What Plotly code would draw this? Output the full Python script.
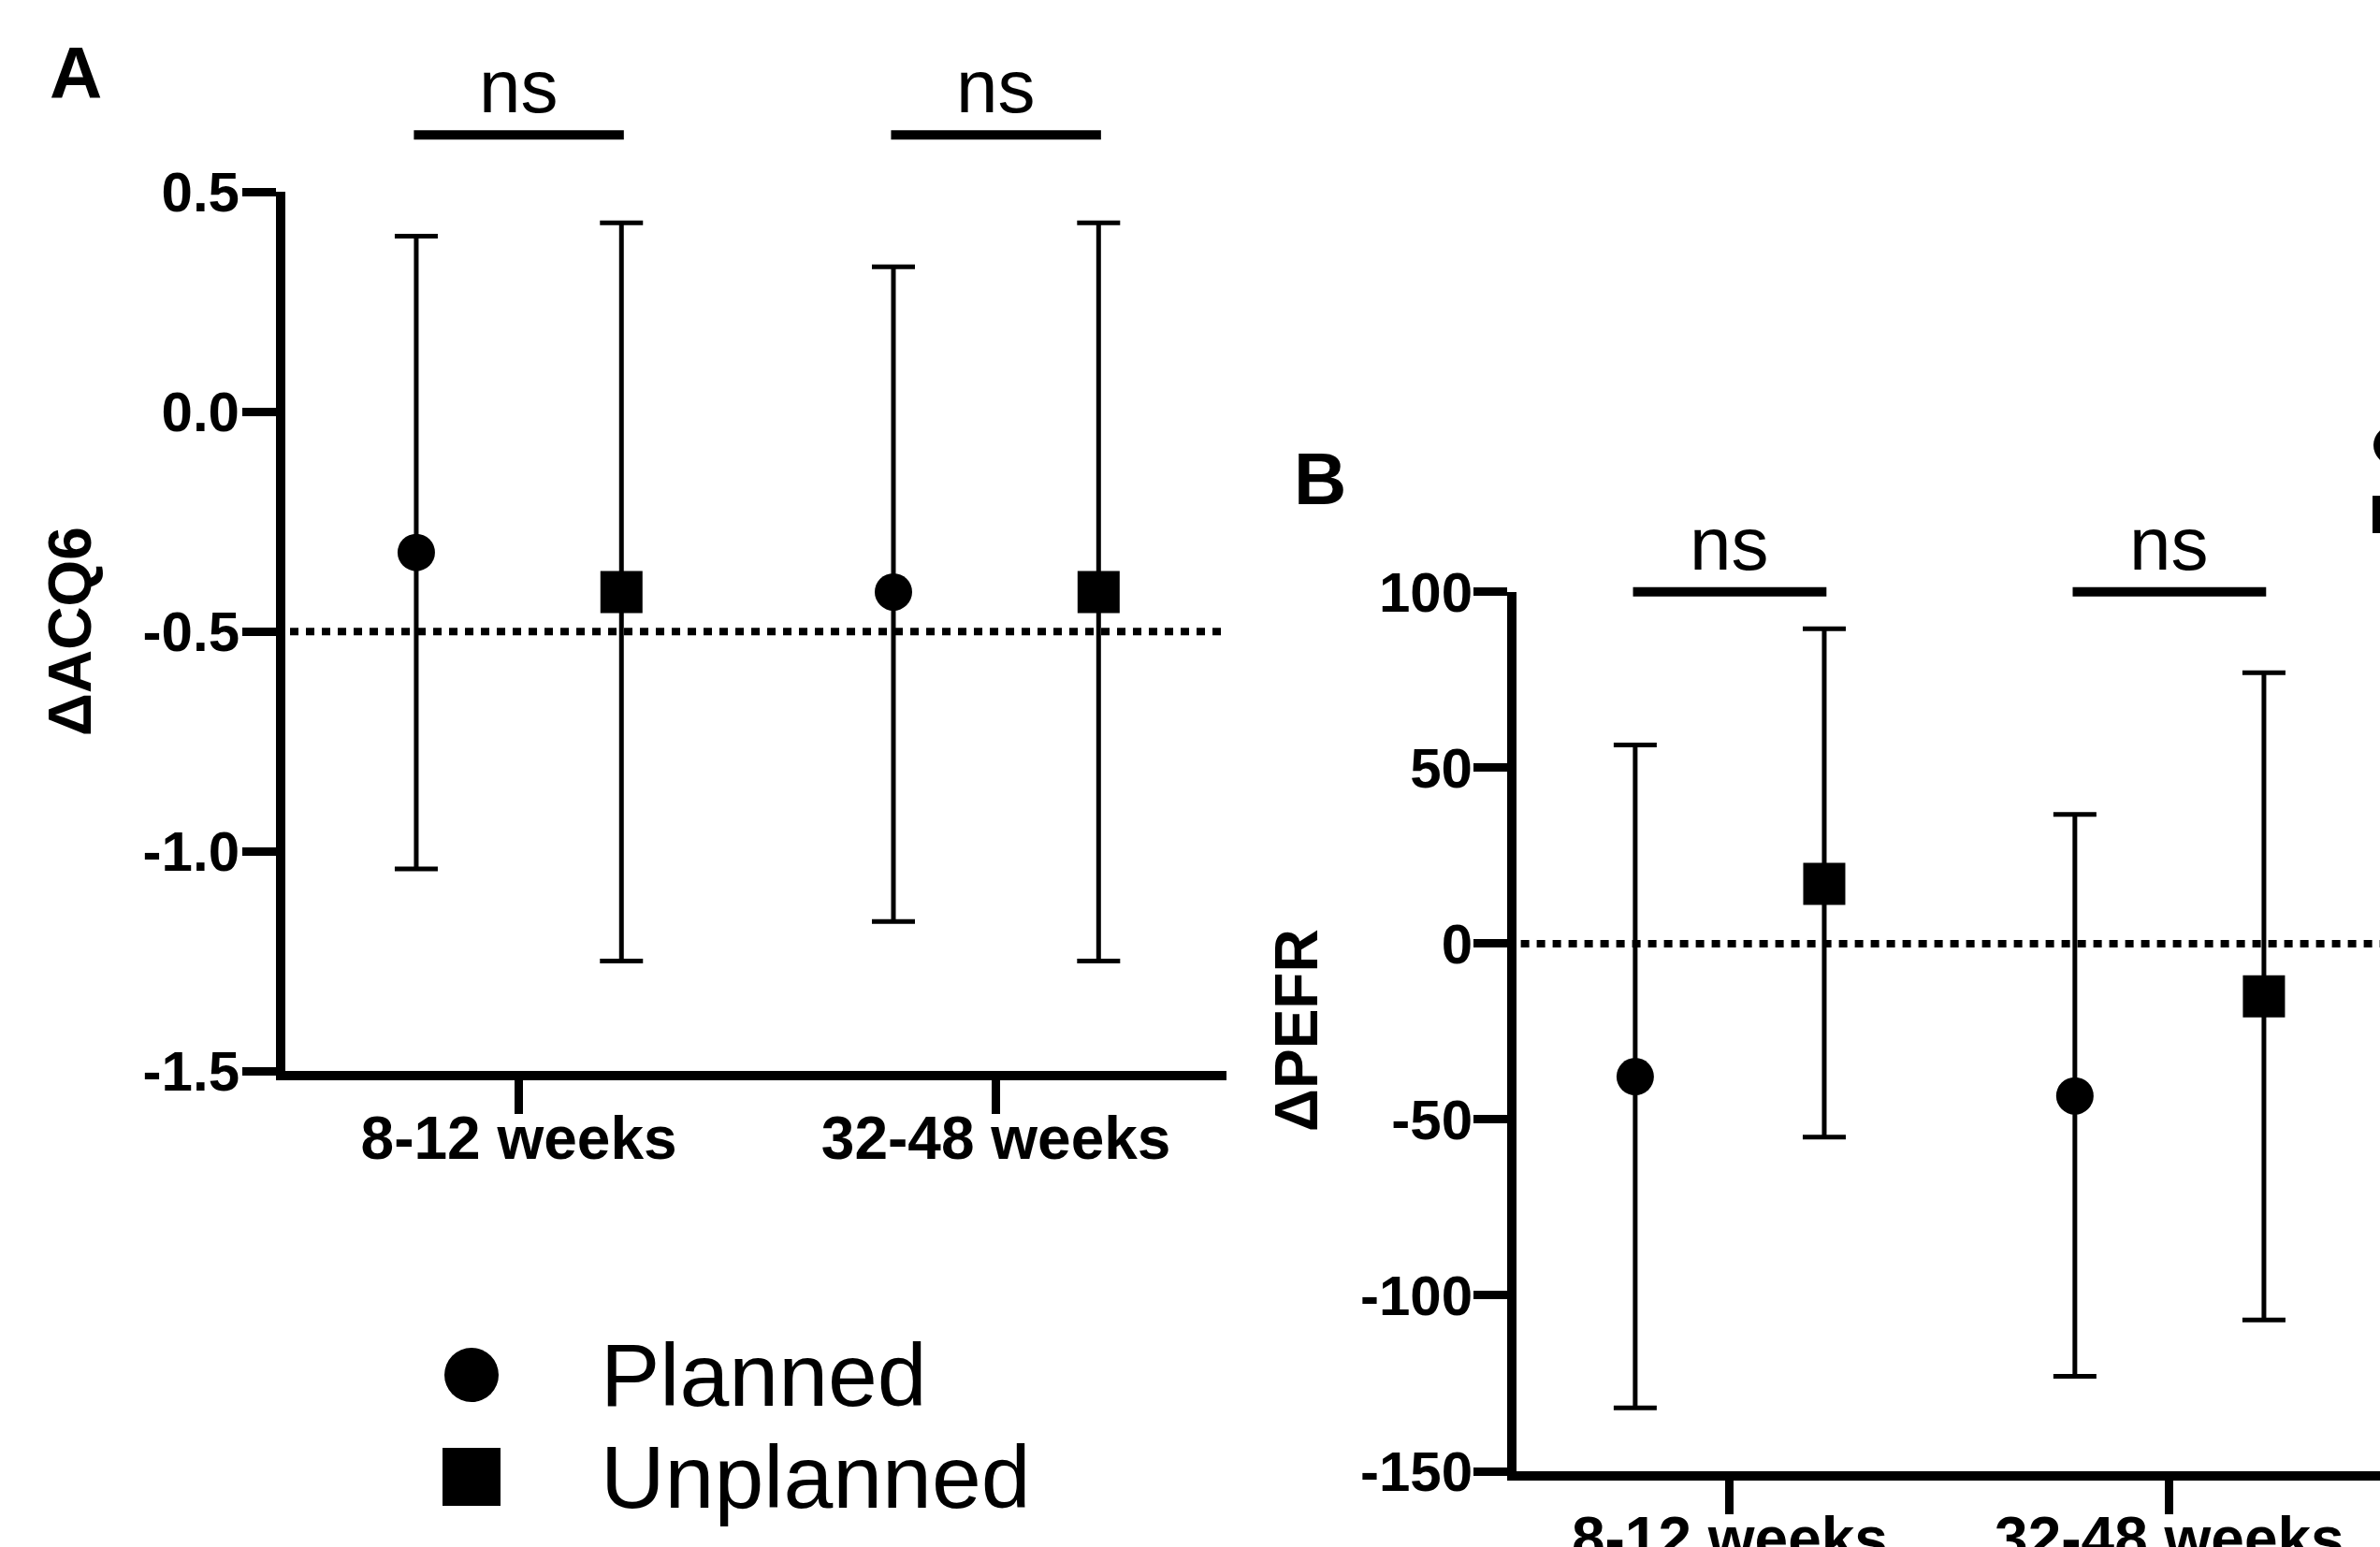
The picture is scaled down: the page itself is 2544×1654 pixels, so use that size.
import plotly.graph_objects as go

W, H = 2544, 1654
FONT = "Arial, Liberation Sans, sans-serif"
PAGE_OFF = 0  # body margin removed via post_script

# ---------------- data ----------------
categories = ["8-12 weeks", "32-48 weeks"]
cat_pos = [1, 2]
groups = ["Planned", "Unplanned"]
sig_labels = ["ns", "ns"]

# Panel A: change in ACQ6 (mean with 95% CI)
acq_planned_mean = [-0.32, -0.41]
acq_planned_upper = [0.40, 0.33]
acq_planned_lower = [-1.04, -1.16]
acq_unplanned_mean = [-0.41, -0.41]
acq_unplanned_upper = [0.43, 0.43]
acq_unplanned_lower = [-1.25, -1.25]
acq_ref = -0.5
acq_ticks = [-1.5, -1.0, -0.5, 0.0, 0.5]
acq_ticklabels = ["-1.5", "-1.0", "-0.5", "0.0", "0.5"]
acq_sig_y = 0.63

# Panel B: change in PEFR (mean with 95% CI)
pefr_planned_mean = [-37.8, -43.3]
pefr_planned_upper = [56.5, 36.7]
pefr_planned_lower = [-132.0, -123.0]
pefr_unplanned_mean = [17.0, -15.0]
pefr_unplanned_upper = [89.5, 77.0]
pefr_unplanned_lower = [-55.0, -107.0]
pefr_ref = 0
pefr_ticks = [-150, -100, -50, 0, 50, 100]
pefr_ticklabels = ["-150", "-100", "-50", "0", "50", "100"]
pefr_sig_y = 100


# ---------------- layout geometry ----------------
def px(x):
    return (x - PAGE_OFF) / W


def py(y):
    return 1 - (y - PAGE_OFF) / H


OFF = 0.215
A_xdom, A_xrng = [px(305), px(1311)], [0.5106, 2.483]
A_ydom, A_yrng = [py(1145), py(205.4)], [-1.5, 0.5]
B_xdom, B_xrng = [px(1621), 1.0], [0.515, 2.479]
B_ydom, B_yrng = [py(1573), py(632.8)], [-150, 100]


def to_paper(v, dom, rng):
    return dom[0] + (v - rng[0]) / (rng[1] - rng[0]) * (dom[1] - dom[0])


fig = go.Figure()


def add_panel(xa, ya, pm, pu, pl, um, uu, ul):
    for name, mean, up, lo, sym, size, sign in [
        (groups[0], pm, pu, pl, "circle", 40, -1),
        (groups[1], um, uu, ul, "square", 45, 1),
    ]:
        fig.add_trace(go.Scatter(
            x=[c + sign * OFF for c in cat_pos], y=mean,
            mode="markers", name=name, showlegend=False,
            xaxis=xa, yaxis=ya,
            marker=dict(symbol=sym, size=size, color="black", line=dict(width=0)),
            error_y=dict(type="data", symmetric=False,
                         array=[u - m for u, m in zip(up, mean)],
                         arrayminus=[m - l for m, l in zip(mean, lo)],
                         color="black", thickness=5, width=23),
        ))


add_panel("x", "y", acq_planned_mean, acq_planned_upper, acq_planned_lower,
          acq_unplanned_mean, acq_unplanned_upper, acq_unplanned_lower)
add_panel("x2", "y2", pefr_planned_mean, pefr_planned_upper, pefr_planned_lower,
          pefr_unplanned_mean, pefr_unplanned_upper, pefr_unplanned_lower)

axis_common = dict(showline=True, linecolor="black", linewidth=10,
                   ticks="outside", ticklen=36, tickwidth=9, tickcolor="black",
                   showgrid=False, zeroline=False, fixedrange=True, automargin=False)

fig.update_layout(
    template="none",
    width=W, height=H, autosize=False,
    margin=dict(l=0, r=0, t=0, b=0, pad=0),
    paper_bgcolor="white", plot_bgcolor="white",
    font=dict(family=FONT, color="black"),
    showlegend=False,
    xaxis=dict(domain=A_xdom, range=A_xrng, anchor="y",
               tickvals=cat_pos, ticktext=categories, ticklabelstandoff=-29,
               tickfont=dict(size=64, weight="bold"), **axis_common),
    yaxis=dict(domain=A_ydom, range=A_yrng, anchor="x",
               tickvals=acq_ticks, ticktext=acq_ticklabels, ticklabelstandoff=-9,
               tickfont=dict(size=60, weight="bold"), **axis_common),
    xaxis2=dict(domain=B_xdom, range=B_xrng, anchor="y2",
                tickvals=cat_pos, ticktext=categories, ticklabelstandoff=-29,
                tickfont=dict(size=64, weight="bold"), **axis_common),
    yaxis2=dict(domain=B_ydom, range=B_yrng, anchor="x2",
                tickvals=pefr_ticks, ticktext=pefr_ticklabels, ticklabelstandoff=-11,
                tickfont=dict(size=60, weight="bold"), **axis_common),
)

shapes = []
annotations = []

# dotted reference lines
for xa, ya, ref in [("x", "y", acq_ref), ("x2", "y2", pefr_ref)]:
    shapes.append(dict(type="line", xref=f"{xa} domain", yref=ya,
                       x0=0.005, x1=1, y0=ref, y1=ref,
                       line=dict(color="black", width=8, dash="9px,8px")))

# significance bars and labels
for xdom, xrng, ydom, yrng, sy in [
    (A_xdom, A_xrng, A_ydom, A_yrng, acq_sig_y),
    (B_xdom, B_xrng, B_ydom, B_yrng, pefr_sig_y),
]:
    yp = to_paper(sy, ydom, yrng)
    for c, lab in zip(cat_pos, sig_labels):
        x0 = to_paper(c - 0.22, xdom, xrng)
        x1 = to_paper(c + 0.22, xdom, xrng)
        shapes.append(dict(type="line", xref="paper", yref="paper",
                           x0=x0, x1=x1, y0=yp, y1=yp,
                           line=dict(color="black", width=10)))
        annotations.append(dict(text=lab, xref="paper", yref="paper",
                                x=to_paper(c, xdom, xrng), y=yp + 0.003,
                                xanchor="center", yanchor="bottom", showarrow=False,
                                font=dict(size=80, family=FONT)))

# panel letters
annotations.append(dict(text="<b>A</b>", xref="paper", yref="paper", x=px(81), y=py(78),
                        xanchor="center", yanchor="middle", showarrow=False,
                        font=dict(size=78, family=FONT)))
annotations.append(dict(text="<b>B</b>", xref="paper", yref="paper", x=px(1411), y=py(512),
                        xanchor="center", yanchor="middle", showarrow=False,
                        font=dict(size=78, family=FONT)))

# axis titles
annotations.append(dict(text="<b>ΔACQ6</b>", xref="paper", yref="paper", x=px(75), y=py(675),
                        xanchor="center", yanchor="middle", textangle=-90, showarrow=False,
                        font=dict(size=64, family=FONT)))
annotations.append(dict(text="<b>ΔPEFR</b>", xref="paper", yref="paper", x=px(1386), y=py(1102),
                        xanchor="center", yanchor="middle", textangle=-90, showarrow=False,
                        font=dict(size=64, family=FONT)))

# legend for panel A (glyphs + labels)
shapes.append(dict(type="circle", xref="paper", yref="paper",
                   x0=px(504 - 29), x1=px(504 + 29), y0=py(1470 + 29), y1=py(1470 - 29),
                   fillcolor="black", line=dict(width=0)))
shapes.append(dict(type="rect", xref="paper", yref="paper",
                   x0=px(504 - 31), x1=px(504 + 31), y0=py(1579 + 31), y1=py(1579 - 31),
                   fillcolor="black", line=dict(width=0)))
annotations.append(dict(text=groups[0], xref="paper", yref="paper", x=px(640), y=py(1470),
                        xanchor="left", yanchor="middle", showarrow=False,
                        font=dict(size=95, family=FONT)))
annotations.append(dict(text=groups[1], xref="paper", yref="paper", x=px(640), y=py(1579),
                        xanchor="left", yanchor="middle", showarrow=False,
                        font=dict(size=95, family=FONT)))

# partially visible legend glyphs of panel B at right edge
shapes.append(dict(type="circle", xref="paper", yref="paper",
                   x0=px(2558 - 21), x1=px(2558 + 21), y0=py(476 + 21), y1=py(476 - 21),
                   fillcolor="black", line=dict(width=0)))
shapes.append(dict(type="rect", xref="paper", yref="paper",
                   x0=px(2558 - 22), x1=px(2558 + 22), y0=py(550 + 20), y1=py(550 - 20),
                   fillcolor="black", line=dict(width=0)))

fig.update_layout(shapes=shapes, annotations=annotations)
fig.write_html(
    "out.html",
    config={"displayModeBar": False},
    post_script="document.body.style.margin='0';document.body.style.overflow='hidden';",
)
